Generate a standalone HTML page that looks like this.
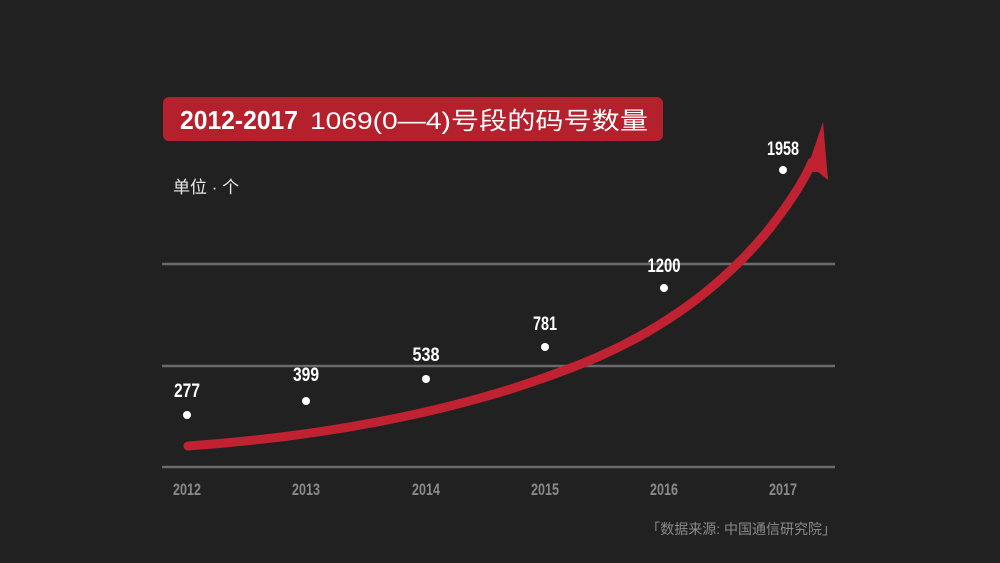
<!DOCTYPE html>
<html><head><meta charset="utf-8"><style>
html,body{margin:0;padding:0;width:1000px;height:563px;background:#222121;overflow:hidden}
svg{display:block}
.n{font-family:"Liberation Sans Narrow","Liberation Sans",sans-serif;font-weight:bold}
.cjk{font-family:"Liberation Sans","Noto Sans CJK SC",sans-serif}
</style></head><body>
<svg width="1000" height="563" viewBox="0 0 1000 563">
<rect width="1000" height="563" fill="#222121"/>
<rect x="163" y="97" width="500" height="44" rx="6" fill="#b5202d"/>
<text x="180" y="129" fill="#fff" font-size="26" class="n" textLength="118" lengthAdjust="spacingAndGlyphs">2012-2017</text>
<text x="310" y="129" fill="#fff" font-size="24" class="cjk" textLength="338" lengthAdjust="spacingAndGlyphs">1069(0—4)号段的码号数量</text>
<text x="173" y="193" fill="#e8e8e8" font-size="17" class="cjk">单位 · 个</text>
<g stroke="#6a6a6a" stroke-width="2.5">
<line x1="162" y1="264" x2="835" y2="264"/>
<line x1="162" y1="366" x2="835" y2="366"/>
<line x1="162" y1="467" x2="835" y2="467"/>
</g>
<path d="M188,446 C330,436 460,410 560,372 C650,340 720,290 770,228 C795,196 806,176 812,162" fill="none" stroke="#c02232" stroke-width="9" stroke-linecap="round"/>
<polygon points="823,122 828,180 818,172 806,172" fill="#c02232"/>
<g fill="#fff">
<circle cx="187" cy="415" r="4"/>
<circle cx="306" cy="401" r="4"/>
<circle cx="426" cy="379" r="4"/>
<circle cx="545" cy="347" r="4"/>
<circle cx="664" cy="288" r="4"/>
<circle cx="783" cy="170" r="4"/>
</g>
<g fill="#fff" font-size="19" class="n" text-anchor="middle" lengthAdjust="spacingAndGlyphs">
<text x="187" y="397" textLength="26" lengthAdjust="spacingAndGlyphs">277</text>
<text x="306" y="381" textLength="26" lengthAdjust="spacingAndGlyphs">399</text>
<text x="426" y="361" textLength="27" lengthAdjust="spacingAndGlyphs">538</text>
<text x="545" y="330" textLength="24" lengthAdjust="spacingAndGlyphs">781</text>
<text x="664" y="272" textLength="33" lengthAdjust="spacingAndGlyphs">1200</text>
<text x="783" y="155" textLength="32" lengthAdjust="spacingAndGlyphs">1958</text>
</g>
<g fill="#8a8a8a" font-size="17" class="n" text-anchor="middle">
<text x="187" y="495" textLength="28" lengthAdjust="spacingAndGlyphs">2012</text>
<text x="306" y="495" textLength="28" lengthAdjust="spacingAndGlyphs">2013</text>
<text x="426" y="495" textLength="28" lengthAdjust="spacingAndGlyphs">2014</text>
<text x="545" y="495" textLength="28" lengthAdjust="spacingAndGlyphs">2015</text>
<text x="664" y="495" textLength="28" lengthAdjust="spacingAndGlyphs">2016</text>
<text x="783" y="495" textLength="28" lengthAdjust="spacingAndGlyphs">2017</text>
</g>
<text x="836" y="534" fill="#8a8a8a" font-size="14" class="cjk" text-anchor="end">「数据来源: 中国通信研究院」</text>
</svg>
</body></html>
